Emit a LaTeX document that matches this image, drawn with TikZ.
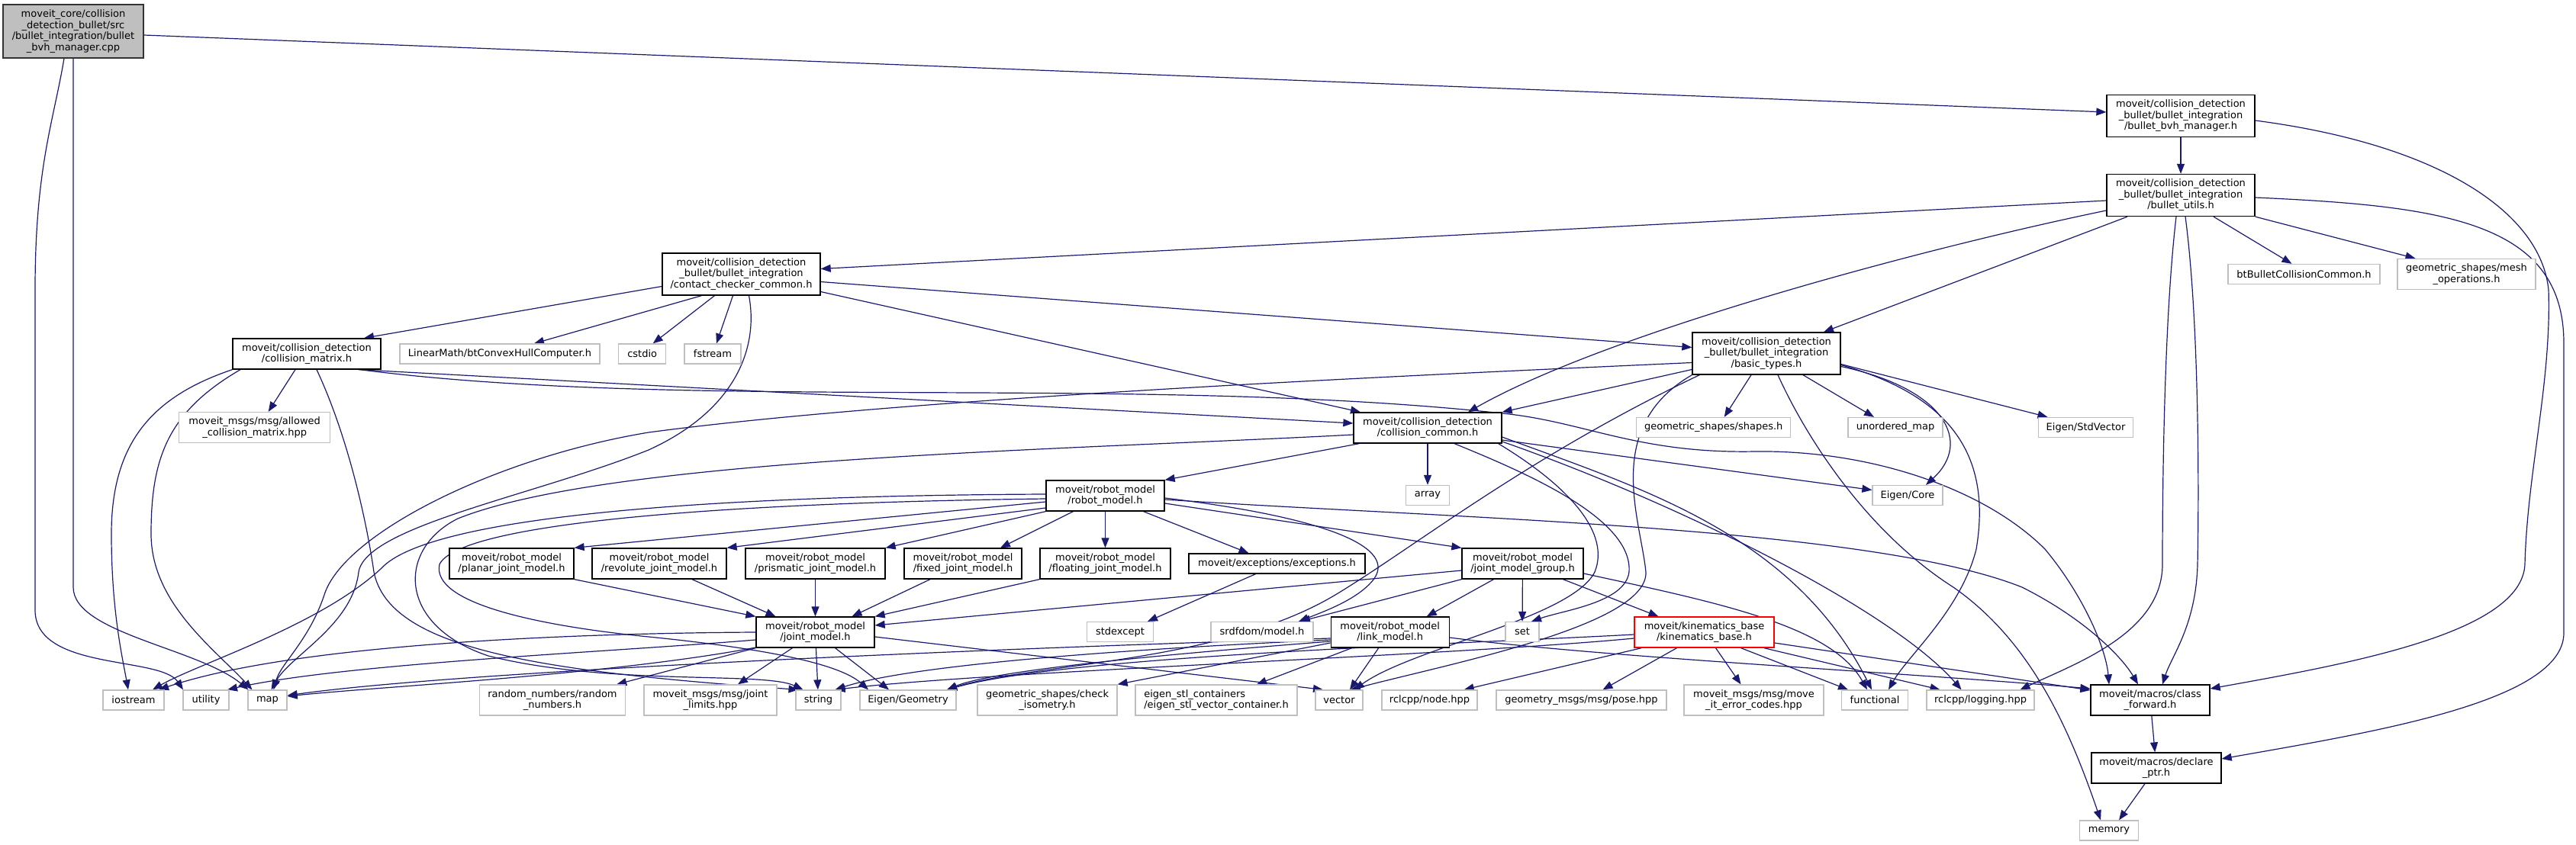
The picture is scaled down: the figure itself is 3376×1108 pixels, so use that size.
\documentclass[tikz,border=0pt]{standalone}
\usepackage{fontspec}
\setmainfont{DejaVu Sans}
\usetikzlibrary{arrows.meta,backgrounds}
\definecolor{edgec}{RGB}{25,25,112}
\definecolor{lgray}{RGB}{191,191,191}
\definecolor{mainfill}{RGB}{191,191,191}
\begin{document}
\begin{tikzpicture}[x=1pt,y=-1pt,
  nb/.style={draw=black, line width=1.3pt, fill=white, inner sep=0pt, align=center,
    font=\fontsize{13}{14.5}\selectfont},
  ng/.style={nb, draw=lgray},
  nr/.style={nb, draw=red},
  nm/.style={nb, fill=mainfill, draw=black!80},
  edge/.style={draw=edgec, line width=1.2pt, -{Triangle[length=13pt,width=10pt]}},
  sz/.style 2 args={minimum width=#1pt, minimum height=#2pt}]
\useasboundingbox (0,0) rectangle (3376,1108);

% ---------- nodes ----------
\node[nm, sz={184}{70}] (main) at (96,41) {moveit\_core/collision\\\_detection\_bullet/src\\/bullet\_integration/bullet\\\_bvh\_manager.cpp};
\node[nb, sz={194}{55}] (bvhm) at (2858,152) {moveit/collision\_detection\\\_bullet/bullet\_integration\\/bullet\_bvh\_manager.h};
\node[nb, sz={194}{55}] (utils) at (2858,256) {moveit/collision\_detection\\\_bullet/bullet\_integration\\/bullet\_utils.h};
\node[ng, sz={199}{26}] (btbullet) at (3019.5,359.5) {btBulletCollisionCommon.h};
\node[ng, sz={181}{40}] (meshops) at (3232.5,359.5) {geometric\_shapes/mesh\\\_operations.h};
\node[nb, sz={207}{55}] (ccc) at (971.5,359.5) {moveit/collision\_detection\\\_bullet/bullet\_integration\\/contact\_checker\_common.h};
\node[nb, sz={194}{40}] (collmatrix) at (402,464) {moveit/collision\_detection\\/collision\_matrix.h};
\node[ng, sz={262}{26}] (lmconvex) at (655,464) {LinearMath/btConvexHullComputer.h};
\node[ng, sz={62}{26}] (cstdio) at (841.7,464) {cstdio};
\node[ng, sz={74}{26}] (fstream) at (934,464) {fstream};
\node[ng, sz={198}{40}] (allowedcm) at (333.7,560.5) {moveit\_msgs/msg/allowed\\\_collision\_matrix.hpp};
\node[nb, sz={194}{55}] (basictypes) at (2315,463.5) {moveit/collision\_detection\\\_bullet/bullet\_integration\\/basic\_types.h};
\node[nb, sz={194}{40}] (collcommon) at (1871,561) {moveit/collision\_detection\\/collision\_common.h};
\node[ng, sz={202}{26}] (shapes) at (2245.7,560.5) {geometric\_shapes/shapes.h};
\node[ng, sz={124}{26}] (unorderedmap) at (2484,560.5) {unordered\_map};
\node[ng, sz={124}{26}] (stdvector) at (2733.5,560.5) {Eigen/StdVector};
\node[ng, sz={57}{26}] (array) at (1871,649.5) {array};
\node[ng, sz={92}{26}] (eigencore) at (2500,649.5) {Eigen/Core};
\node[nb, sz={155}{40}] (robotmodel) at (1448.5,650) {moveit/robot\_model\\/robot\_model.h};
\node[nb, sz={163}{40}] (planar) at (670.5,739) {moveit/robot\_model\\/planar\_joint\_model.h};
\node[nb, sz={176}{40}] (revolute) at (864,739) {moveit/robot\_model\\/revolute\_joint\_model.h};
\node[nb, sz={183}{40}] (prismatic) at (1068.5,739) {moveit/robot\_model\\/prismatic\_joint\_model.h};
\node[nb, sz={154}{40}] (fixed) at (1262,739) {moveit/robot\_model\\/fixed\_joint\_model.h};
\node[nb, sz={171}{40}] (floating) at (1448.5,739) {moveit/robot\_model\\/floating\_joint\_model.h};
\node[nb, sz={231}{26}] (exceptions) at (1673.5,739) {moveit/exceptions/exceptions.h};
\node[nb, sz={159}{40}] (jmg) at (1995.5,739) {moveit/robot\_model\\/joint\_model\_group.h};
\node[nb, sz={155}{40}] (jointmodel) at (1068.5,829) {moveit/robot\_model\\/joint\_model.h};
\node[ng, sz={87}{26}] (stdexcept) at (1468,828.5) {stdexcept};
\node[ng, sz={134}{26}] (srdf) at (1654,828.5) {srdfdom/model.h};
\node[nb, sz={155}{40}] (linkmodel) at (1821.7,829) {moveit/robot\_model\\/link\_model.h};
\node[ng, sz={44}{26}] (set) at (1995,828.5) {set};
\node[nr, sz={183}{40}] (kb) at (2233.5,829) {moveit/kinematics\_base\\/kinematics\_base.h};
\node[ng, sz={80}{26}] (iostream) at (175,918) {iostream};
\node[ng, sz={60}{26}] (utility) at (270,918) {utility};
\node[ng, sz={51}{26}] (map) at (350.5,918) {map};
\node[ng, sz={191}{40}] (random) at (724,918) {random\_numbers/random\\\_numbers.h};
\node[ng, sz={174}{40}] (jointlimits) at (931,918) {moveit\_msgs/msg/joint\\\_limits.hpp};
\node[ng, sz={59}{26}] (string) at (1072.5,918) {string};
\node[ng, sz={126}{26}] (egeom) at (1190,918) {Eigen/Geometry};
\node[ng, sz={183}{40}] (checkiso) at (1372.5,918) {geometric\_shapes/check\\\_isometry.h};
\node[ng, sz={212}{40}, align=left] (eigenstl) at (1594,918) {eigen\_stl\_containers\\/eigen\_stl\_vector\_container.h};
\node[ng, sz={62}{26}] (vector) at (1755,918) {vector};
\node[ng, sz={125}{26}] (rclnode) at (1873.5,918) {rclcpp/node.hpp};
\node[ng, sz={223}{26}] (pose) at (2072.5,918) {geometry\_msgs/msg/pose.hpp};
\node[ng, sz={183}{40}] (errcodes) at (2298.5,918) {moveit\_msgs/msg/move\\\_it\_error\_codes.hpp};
\node[ng, sz={87}{26}] (functional) at (2457,918) {functional};
\node[ng, sz={141}{26}] (logging) at (2595.5,918) {rclcpp/logging.hpp};
\node[nb, sz={156}{40}] (classfwd) at (2818,918) {moveit/macros/class\\\_forward.h};
\node[nb, sz={170}{40}] (declptr) at (2826,1007) {moveit/macros/declare\\\_ptr.h};
\node[ng, sz={77}{26}] (memory) at (2764,1089) {memory};

% ---------- edges ----------
\begin{scope}[on background layer]
% main
\draw[edge] ([yshift=-5pt]main.east) -- ([yshift=5pt]bvhm.west);
\draw[edge] ([xshift=-12pt]main.south) .. controls (70,160) and (46,220) .. (46,380) -- (46,800) .. controls (46,880) and (210,860) .. ([xshift=-30pt]utility.north);
\draw[edge] (main.south) -- (96,770) .. controls (96,830) and (260,850) .. ([xshift=-25pt]map.north);
% bvhm
\draw[edge] (bvhm) -- (utils);
\draw[edge] ([yshift=-6pt]bvhm.east) .. controls (3200,190) and (3330,280) .. (3340,380) .. controls (3344,500) and (3312,620) .. (3309,740) .. controls (3305,830) and (3080,870) .. ([yshift=15pt]classfwd.east);
% utils
\draw[edge] ([yshift=-3pt]utils.east) .. controls (3200,270) and (3360,290) .. (3360,450) -- (3360,830) .. controls (3360,920) and (3110,960) .. ([yshift=12pt]declptr.east);
\draw[edge] ([xshift=6pt]utils.south) .. controls (2882,420) and (2882,640) .. (2880,740) .. controls (2878,820) and (2846,860) .. ([xshift=16pt]classfwd.north);
\draw[edge] ([xshift=-6pt]utils.south) .. controls (2836,420) and (2834,640) .. (2834,740) .. controls (2834,830) and (2720,870) .. ([xshift=52pt]logging.north);
\draw[edge] ([yshift=-7pt]utils.west) -- ([yshift=7pt]ccc.east);
\draw[edge] ([yshift=-20pt]utils.west) .. controls (2500,330) and (2100,440) .. ([xshift=53pt]collcommon.north);
\draw[edge] ([xshift=-70pt]utils.south) -- ([xshift=75pt]basictypes.north);
\draw[edge] ([xshift=43pt]utils.south) -- ([xshift=-16pt]btbullet.north);
\draw[edge] (utils.south east) -- ([xshift=-67pt]meshops.north);
% contact checker common
\draw[edge] ([yshift=-16pt]ccc.west) -- ([xshift=75pt]collmatrix.north);
\draw[edge] ([xshift=-52pt]ccc.south) -- ([xshift=45pt]lmconvex.north);
\draw[edge] ([xshift=-35pt]ccc.south) -- ([xshift=14pt]cstdio.north);
\draw[edge] ([xshift=-11pt]ccc.south) -- ([xshift=5pt]fstream.north);
\draw[edge] ([yshift=-10pt]ccc.east) -- ([yshift=8pt]basictypes.west);
\draw[edge] ([yshift=-23pt]ccc.east) -- ([xshift=-88pt]collcommon.north);
\draw[edge] ([xshift=10pt]ccc.south) .. controls (995,460) and (960,540) .. (850,590) .. controls (700,650) and (480,690) .. (470,750) .. controls (462,820) and (380,860) .. ([xshift=5pt]map.north);
% collision matrix
\draw[edge] (collmatrix.south west) .. controls (200,520) and (146,580) .. (146,700) .. controls (146,800) and (160,860) .. ([xshift=-7pt]iostream.north);
\draw[edge] ([xshift=-87pt]collmatrix.south) .. controls (220,540) and (198,600) .. (198,700) .. controls (198,790) and (280,850) .. ([xshift=-20pt]map.north);
\draw[edge] ([xshift=-15pt]collmatrix.south) -- ([xshift=18pt]allowedcm.north);
\draw[edge] ([xshift=13pt]collmatrix.south) .. controls (455,570) and (480,680) .. (490,750) .. controls (510,850) and (700,880) .. ([xshift=-26pt]string.north);
\draw[edge] ([xshift=-30pt]collmatrix.south east) -- ([yshift=6pt]collcommon.west);
\draw[edge] ([xshift=-28pt]collmatrix.south east) .. controls (900,540) and (1500,490) .. (1978,543) .. controls (2080,555) and (2150,595) .. (2300,592) .. controls (2450,590) and (2600,640) .. (2680,720) .. controls (2730,780) and (2760,850) .. ([xshift=-54pt]classfwd.north);
% basic types
\draw[edge] ([yshift=-21pt]basictypes.west) -- (collcommon.north east);
\draw[edge] ([xshift=-20pt]basictypes.south) -- ([xshift=14pt]shapes.north);
\draw[edge] ([xshift=48pt]basictypes.south) -- ([xshift=-28pt]unorderedmap.north);
\draw[edge] ([yshift=-14pt]basictypes.east) -- ([xshift=-50pt]stdvector.north);
\draw[edge] ([yshift=-17pt]basictypes.east) .. controls (2550,510) and (2585,580) .. ([xshift=24pt]eigencore.north);
\draw[edge] ([xshift=15pt]basictypes.south) .. controls (2370,580) and (2450,700) .. (2560,770) .. controls (2660,840) and (2710,950) .. ([xshift=-11pt]memory.north);
\draw[edge] ([yshift=-12pt]basictypes.west) .. controls (1900,490) and (1200,520) .. (850,567) .. controls (650,600) and (450,700) .. (425,780) .. controls (405,840) and (368,870) .. ([xshift=8pt]map.north);
\draw[edge] (basictypes.south west) .. controls (2100,560) and (2150,680) .. (2157,750) .. controls (2160,820) and (1900,870) .. ([xshift=15pt]vector.north);
\draw[edge] ([xshift=10pt]basictypes.south west) .. controls (2000,600) and (1850,720) .. (1750,780) .. controls (1600,870) and (1350,870) .. ([xshift=51pt]egeom.north);
\draw[edge] ([yshift=-15pt]basictypes.east) .. controls (2560,520) and (2610,600) .. (2590,720) .. controls (2570,800) and (2500,860) .. ([xshift=18pt]functional.north);
% collision common
\draw[edge] (collcommon) -- (array);
\draw[edge] ([yshift=-16pt]collcommon.east) -- ([yshift=7pt]eigencore.west);
\draw[edge] ([xshift=8pt]collcommon.south west) -- (robotmodel.north east);
\draw[edge] ([xshift=35pt]collcommon.south) .. controls (2000,620) and (2140,680) .. (2135,750) .. controls (2130,790) and (2050,800) .. ([xshift=12pt]set.north);
\draw[edge] ([xshift=-5pt]collcommon.south east) .. controls (2060,640) and (2110,700) .. (2090,750) .. controls (2060,810) and (1850,850) .. ([xshift=20pt]vector.north);
\draw[edge] ([yshift=-12pt]collcommon.east) .. controls (2150,640) and (2350,700) .. ([xshift=-4pt]functional.north);
\draw[edge] ([yshift=-18pt]collcommon.east) .. controls (2200,660) and (2480,800) .. ([xshift=-25pt]logging.north);
\draw[edge] ([yshift=-9pt]collcommon.west) .. controls (1400,590) and (800,600) .. (600,680) .. controls (520,720) and (520,820) .. (640,860) .. controls (800,900) and (1000,880) .. ([xshift=-20pt]string.north);
% robot model
\draw[edge] ([yshift=-8pt]robotmodel.west) -- (planar.north east);
\draw[edge] ([yshift=-16pt]robotmodel.west) -- (revolute.north east);
\draw[edge] (robotmodel.south west) -- (prismatic.north east);
\draw[edge] ([xshift=-42pt]robotmodel.south) -- ([xshift=49pt]fixed.north);
\draw[edge] (robotmodel) -- (floating);
\draw[edge] ([xshift=50pt]robotmodel.south) -- ([xshift=-37pt]exceptions.north);
\draw[edge] ([yshift=-10pt]robotmodel.east) -- (jmg.north west);
\draw[edge] ([yshift=-3pt]robotmodel.east) .. controls (1750,680) and (1830,720) .. (1800,760) .. controls (1780,785) and (1740,800) .. ([xshift=48pt]srdf.north);
\draw[edge] ([yshift=-5pt]robotmodel.east) .. controls (1900,680) and (2450,690) .. (2650,770) .. controls (2730,810) and (2780,860) .. ([xshift=-16pt]classfwd.north);
\draw[edge] ([yshift=2pt]robotmodel.west) .. controls (900,650) and (560,680) .. (500,745) .. controls (420,820) and (260,870) .. ([xshift=25pt]iostream.north);
\draw[edge] ([yshift=-4pt]robotmodel.west) .. controls (900,660) and (600,690) .. (576,740) .. controls (565,790) and (700,820) .. (850,835) .. controls (1000,850) and (1100,870) .. ([xshift=-52pt]egeom.north);
% joint model variants
\draw[edge] (planar.south east) -- (jointmodel.north west);
\draw[edge] ([xshift=43pt]revolute.south) -- ([xshift=-52pt]jointmodel.north);
\draw[edge] (prismatic) -- (jointmodel);
\draw[edge] ([xshift=-43pt]fixed.south) -- ([xshift=48pt]jointmodel.north);
\draw[edge] (floating.south west) -- (jointmodel.north east);
\draw[edge] ([xshift=-28pt]exceptions.south) -- ([xshift=36pt]stdexcept.north);
% joint model group
\draw[edge] ([yshift=-9pt]jmg.west) -- ([yshift=9pt]jointmodel.east);
\draw[edge] ([xshift=-38pt]jmg.south) -- ([xshift=48pt]linkmodel.north);
\draw[edge] (jmg) -- (set);
\draw[edge] ([xshift=53pt]jmg.south) -- ([xshift=-60pt]kb.north);
\draw[edge] (jmg.south west) -- ([xshift=50pt]srdf.north);
\draw[edge] ([yshift=-13pt]jmg.east) .. controls (2250,790) and (2400,820) .. ([xshift=-10pt]functional.north);
% joint model
\draw[edge] ([xshift=-30pt]jointmodel.south) -- ([xshift=36pt]jointlimits.north);
\draw[edge] (jointmodel) -- (string);
\draw[edge] ([xshift=26pt]jointmodel.south) -- ([xshift=-25pt]egeom.north);
\draw[edge] (jointmodel.south west) -- ([xshift=-12pt]random.north east);
\draw[edge] ([yshift=-6pt]jointmodel.east) -- ([xshift=-21pt]vector.north);
\draw[edge] (jointmodel.west) .. controls (800,830) and (400,840) .. ([xshift=33pt]iostream.north);
\draw[edge] ([yshift=-10pt]jointmodel.west) .. controls (800,855) and (450,870) .. ([xshift=28pt]utility.north);
\draw[edge] ([yshift=-20pt]jointmodel.west) .. controls (800,885) and (500,900) .. ([yshift=5pt]map.east);
% link model
\draw[edge] ([xshift=-15pt]linkmodel.south) -- ([xshift=14pt]vector.north);
\draw[edge] ([xshift=-50pt]linkmodel.south) -- ([xshift=53pt]eigenstl.north);
\draw[edge] ([yshift=-14pt]linkmodel.west) -- (checkiso.north east);
\draw[edge] ([yshift=-12pt]linkmodel.west) .. controls (1500,860) and (1300,880) .. ([xshift=51pt]egeom.north);
\draw[edge] ([yshift=-10pt]linkmodel.west) .. controls (1500,850) and (1200,870) .. ([xshift=22pt]string.north);
\draw[edge] ([yshift=-8pt]linkmodel.west) .. controls (1300,850) and (600,880) .. ([yshift=6pt]map.east);
\draw[edge] ([yshift=-7pt]linkmodel.east) .. controls (2100,862) and (2500,882) .. ([yshift=15pt]classfwd.west);
% kinematics base
\draw[edge] ([xshift=10pt]kb.south west) -- ([xshift=-18pt]rclnode.north east);
\draw[edge] ([xshift=-36pt]kb.south) -- ([xshift=28pt]pose.north);
\draw[edge] ([xshift=15pt]kb.south) -- ([xshift=-17pt]errcodes.north);
\draw[edge] ([xshift=48pt]kb.south) -- ([xshift=-35pt]functional.north);
\draw[edge] ([xshift=-14pt]kb.south east) -- ([xshift=-53pt]logging.north);
\draw[edge] ([yshift=-14pt]kb.east) -- ([yshift=13pt]classfwd.west);
\draw[edge] ([yshift=-3pt]kb.west) .. controls (1900,845) and (1400,860) .. ([xshift=51pt]egeom.north);
\draw[edge] ([yshift=-8pt]kb.west) .. controls (1900,860) and (1300,880) .. ([xshift=22pt]string.north);
% macros
\draw[edge] (classfwd) -- (declptr);
\draw[edge] ([xshift=-15pt]declptr.south) -- ([xshift=13pt]memory.north);
\end{scope}
\end{tikzpicture}
\end{document}
